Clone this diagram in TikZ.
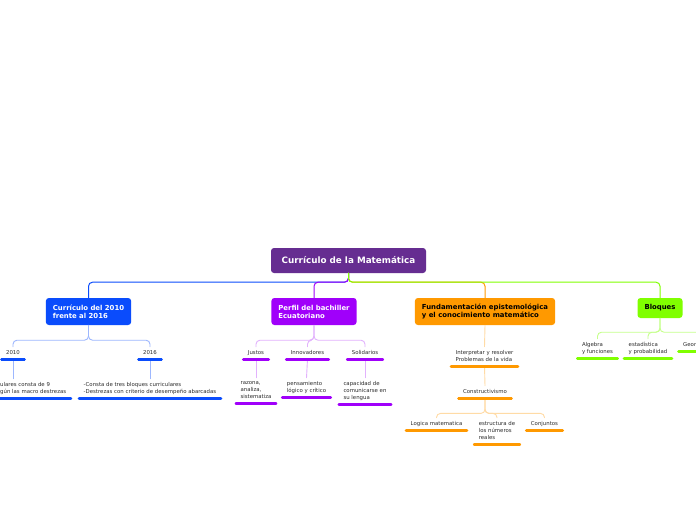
\documentclass[tikz,border=0pt]{standalone}
\usepackage{fontspec}
\setmainfont{DejaVu Sans}
\usetikzlibrary{calc}

\definecolor{rootc}{RGB}{102,45,145}
\definecolor{curblue}{RGB}{10,76,252}
\definecolor{perfil}{RGB}{160,0,250}
\definecolor{fundor}{RGB}{255,153,0}
\definecolor{bloqgreen}{RGB}{128,255,0}
\definecolor{leafgray}{RGB}{45,45,45}

\begin{document}
\begin{tikzpicture}[x=1pt, y=-1pt, line cap=round, line join=round]
\tikzstyle{root}=[fill=rootc, text=white, rounded corners=3pt, font=\fontsize{8.8}{10}\selectfont\bfseries, minimum width=155pt, minimum height=25pt]
\tikzstyle{topic}=[rounded corners=3pt, font=\fontsize{6.9}{8}\selectfont\bfseries, align=left, inner xsep=7pt, minimum height=27pt]
\tikzstyle{leaf}=[anchor=north, font=\fontsize{5.4}{7}\selectfont, text=leafgray, align=left, inner xsep=4.5pt, inner ysep=3.5pt, text depth=1.2pt]
\tikzstyle{bar}=[line width=2.6pt]
\tikzstyle{link}=[line width=1pt, rounded corners=4pt]
\tikzstyle{twig}=[line width=0.9pt, rounded corners=4pt]

\clip (0,0) rectangle (696,520);
\fill[white] (0,0) rectangle (696,520);

\node[root] (mat) at (348.5,260.5) {Currículo de la Matemática};
\node[topic, fill=curblue, text=white] (cur) at (88.5,311.5) {Currículo del 2010\\frente al 2016};
\node[topic, fill=perfil, text=white] (per) at (314,311.5) {Perfil del bachiller\\Ecuatoriano};
\node[topic, fill=fundor, text=black] (fun) at (485,311.5) {Fundamentación epistemológica\\y el conocimiento matemático};
\node[topic, fill=bloqgreen, text=black, minimum height=20pt] (blo) at (660,308) {Bloques};

% curriculo 2010 / 2016
\node[leaf] (y2010) at (13,346.7) {2010};
\node[leaf] (y2016) at (150,346.7) {2016};
\node[leaf, anchor=north west] (t2010) at (-4.5,378.7) {ulares consta de 9\\gún las macro destrezas};
\node[leaf] (t2016) at (150,378.7) {-Consta de tres bloques curriculares\\-Destrezas con criterio de desempeño abarcadas};

% perfil
\node[leaf] (just) at (256,346.7) {Justos};
\node[leaf] (inno) at (307.5,346.7) {Innovadores};
\node[leaf] (soli) at (365,346.7) {Solidarios};
\node[leaf] (razo) at (256,377.7) {razona,\\analiza,\\sistematiza};
\node[leaf] (pens) at (306.5,377.7) {pensamiento\\lógico y crítico};
\node[leaf] (capa) at (365,377.7) {capacidad de\\comunicarse en\\su lengua};

% fundamentacion
\node[leaf] (inte) at (484.5,346.7) {Interpretar y resolver\\Problemas de la vida};
\node[leaf] (cons) at (485,385.7) {Constructivismo};
\node[leaf] (logi) at (436.5,417.7) {Logica matematica};
\node[leaf] (estr) at (497,417.7) {estructura de\\los números\\reales};
\node[leaf] (conj) at (544.5,417.7) {Conjuntos};

% bloques
\node[leaf] (alge) at (597.5,338.7) {Algebra\\y funciones};
\node[leaf] (esta) at (648,338.7) {estadística\\y probabilidad};
\node[leaf, anchor=north west] (geor) at (678.5,338.7) {Geor};
\coordinate (geoend) at (740,360);

\draw[link, curblue] (mat.south) -- ++(0,9) -| (cur.north);
\draw[link, perfil] (mat.south) -- ++(0,9) -| (per.north);
\draw[link, fundor] (mat.south) -- ++(0,9) -| (fun.north);
\draw[link, bloqgreen] (mat.south) -- ++(0,9) -| (blo.north);

\draw[twig, curblue!40] (cur.south) -- ++(0,15) -| (y2010.north);
\draw[twig, curblue!40] (cur.south) -- ++(0,15) -| (y2016.north);
\draw[twig, curblue!40] (y2010.south) -- (y2010.south |- t2010.north);
\draw[twig, curblue!40] (y2016.south) -- (t2016.north);

\draw[twig, perfil!30] (per.south) -- ++(0,15) -| (just.north);
\draw[twig, perfil!30] (per.south) -- ++(0,15) -| (inno.north);
\draw[twig, perfil!30] (per.south) -- ++(0,15) -| (soli.north);
\draw[twig, perfil!30] (just.south) -- (razo.north);
\draw[twig, perfil!30] (inno.south) -- (pens.north);
\draw[twig, perfil!30] (soli.south) -- (capa.north);

\draw[twig, fundor!35] (fun.south) -- (inte.north);
\draw[twig, fundor!35] (inte.south) -- (cons.north);
\draw[twig, fundor!35] (cons.south) -- ++(0,15) -| (logi.north);
\draw[twig, fundor!35] (cons.south) -- ++(0,15) -| (estr.north);
\draw[twig, fundor!35] (cons.south) -- ++(0,15) -| (conj.north);

\draw[twig, bloqgreen!45] (blo.south) -- ++(0,14) -| (alge.north);
\draw[twig, bloqgreen!45] (blo.south) -- ++(0,14) -| (esta.north);
\draw[twig, bloqgreen!45] (blo.south) -- ++(0,14) -| (geoend);

\foreach \n/\c in {y2010/curblue, y2016/curblue, t2010/curblue, t2016/curblue,
  just/perfil, inno/perfil, soli/perfil, razo/perfil, pens/perfil, capa/perfil,
  inte/fundor, cons/fundor, logi/fundor, estr/fundor, conj/fundor,
  alge/bloqgreen, esta/bloqgreen, geor/bloqgreen}
  \draw[bar, \c] (\n.south west) -- (\n.south east);
\end{tikzpicture}
\end{document}
